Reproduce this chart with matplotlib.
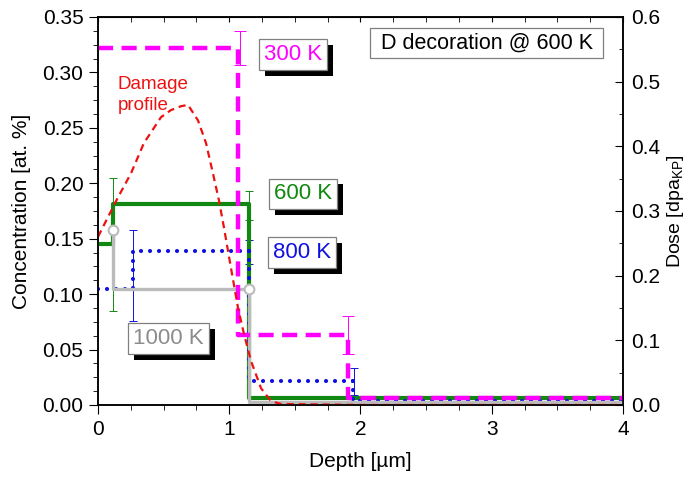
import matplotlib
matplotlib.use('agg')
import matplotlib.pyplot as plt
import matplotlib.patheffects as pe

plt.rcParams['font.family'] = ['Liberation Sans', 'DejaVu Sans']

# Deuterium concentration step profiles (depth in um, conc in at. %)
edges_300 = [0, 1.07, 1.905, 4.0]
conc_300 = [0.322, 0.063, 0.006]
edges_600 = [0, 0.115, 1.15, 4.0]
conc_600 = [0.145, 0.181, 0.006]
edges_800 = [0, 0.27, 1.15, 1.94, 4.0]
conc_800 = [0.105, 0.139, 0.022, 0.0035]
edges_1000 = [0.115, 0.115, 1.15, 4.0]
conc_1000 = [0.158, 0.105, 0.003]

# error bars
err_x_300 = [1.08, 1.905]
err_y_300 = [0.322, 0.063]
err_300 = [0.015, 0.017]
err_x_600 = [0.115, 1.15]
err_y_600 = [0.145, 0.180]
err_600 = [0.06, 0.013]
err_x_800 = [0.27, 1.15, 1.95]
err_y_800 = [0.117, 0.138, 0.021]
err_800 = [0.041, 0.011, 0.012]
mark_x_1000 = [0.115, 1.15]
mark_y_1000 = [0.158, 0.105]

# damage profile (dose in dpa_KP)
dmg_depth = [0, 0.152, 0.251, 0.350, 0.480, 0.556, 0.632, 0.686, 0.762, 0.823,
             0.876, 0.922, 0.960, 1.013, 1.067, 1.112, 1.166, 1.242, 1.318, 1.394,
             2.0, 3.0, 4.0]
dmg_dose = [0.260, 0.321, 0.358, 0.405, 0.445, 0.456, 0.462, 0.464, 0.440, 0.405,
            0.358, 0.316, 0.274, 0.212, 0.150, 0.110, 0.068, 0.026, 0.006, 0.0015,
            0.0, 0.0, 0.0]

MAG = '#ff00ff'
GRN = '#118811'
BLU = '#1010e0'
GRY = '#bbbbbb'
RED = '#ee1111'


def stepline(ax, edges, levels, **kw):
    ax.step(edges, list(levels) + [levels[-1]], where='post', **kw)


fig = plt.figure(figsize=(6.92, 4.82), dpi=100)
ax = fig.add_axes([0.1416, 0.1598, 0.7587, 0.805])

stepline(ax, edges_600, conc_600, color=GRN, lw=3.0, zorder=3)
stepline(ax, edges_800, conc_800, color=BLU, lw=3.0, ls=(0, (0.01, 2.15)),
         dash_capstyle='round', zorder=4)
stepline(ax, edges_1000, conc_1000, color=GRY, lw=2.4, zorder=5)
stepline(ax, edges_300, conc_300, color=MAG, lw=3.2, ls=(0, (3.4, 1.9)), zorder=6)

ax.errorbar(err_x_600, err_y_600, yerr=err_600, fmt='none', ecolor=GRN, elinewidth=0.7,
            capsize=3, capthick=0.7, zorder=2)
ax.errorbar(err_x_800, err_y_800, yerr=err_800, fmt='none', ecolor=BLU, elinewidth=0.7,
            capsize=3, capthick=0.7, zorder=2)
ax.errorbar(err_x_300, err_y_300, yerr=err_300, fmt='none', ecolor=MAG, elinewidth=0.7,
            capsize=4, capthick=0.7, zorder=7)
ax.plot(mark_x_1000, mark_y_1000, 'o', ms=7, mfc='white', mec=GRY, mew=1.5, zorder=8)

ax.set_xlim(0, 4)
ax.set_ylim(0, 0.35)
ax.set_xticks([0, 1, 2, 3, 4])
ax.set_xticks([i * 0.25 for i in range(17)], minor=True)
ax.set_yticks([i * 0.05 for i in range(8)])
ax.set_yticks([i * 0.0125 for i in range(29)], minor=True)
ax.set_yticklabels(['%.2f' % (i * 0.05) for i in range(8)])
ax.tick_params(axis='both', which='major', labelsize=15, direction='out', length=6.5, pad=4)
ax.tick_params(axis='both', which='minor', direction='out', length=3.5)
ax.set_xlabel('Depth [\u00b5m]', fontsize=15, labelpad=10)
ax.set_ylabel('Concentration [at. %]', fontsize=15, labelpad=8)

top = ax.secondary_xaxis('top')
top.set_xticks([0, 1, 2, 3, 4])
top.set_xticks([i * 0.25 for i in range(17)], minor=True)
top.tick_params(which='both', direction='in', labeltop=False, length=3.5)

ax2 = ax.twinx()
ax2.plot(dmg_depth, dmg_dose, color=RED, lw=1.6, ls=(0, (3.2, 2.2)))
ax2.set_ylim(0, 0.6)
ax2.set_yticks([0, 0.1, 0.2, 0.3, 0.4, 0.5, 0.6])
ax2.set_yticks([i * 0.05 for i in range(13)], minor=True)
ax2.set_yticklabels(['0.0', '0.1', '0.2', '0.3', '0.4', '0.5', '0.6'])
ax2.tick_params(which='major', labelsize=15, direction='in', length=5.5, pad=6)
ax2.tick_params(which='minor', direction='in', length=3)
ax2.set_ylabel('Dose [dpa$_{\\mathregular{KP}}$]', fontsize=14, labelpad=3)

for a in (ax, ax2):
    for s in a.spines.values():
        s.set_linewidth(1.1)

shadow = [pe.withSimplePatchShadow(offset=(4.3, -4.3), shadow_rgbFace='k', alpha=1)]


def boxlabel(x, y, text, color, fs=16, shade=True):
    t = ax.text(x, y, text, transform=ax.transAxes, color=color, fontsize=fs,
                ha='center', va='center', zorder=10,
                bbox=dict(boxstyle='square,pad=0.22', fc='white', ec='#808080', lw=0.9))
    if shade:
        t.get_bbox_patch().set_path_effects(shadow)
    return t


boxlabel(0.372, 0.903, '300 K', MAG)
boxlabel(0.390, 0.544, '600 K', GRN)
boxlabel(0.388, 0.393, '800 K', BLU)
boxlabel(0.134, 0.171, '1000 K', '#8c8c8c')
boxlabel(0.740, 0.933, ' D decoration @ 600 K ', 'black', fs=15.5, shade=False)

ax.text(0.038, 0.798, 'Damage\nprofile', transform=ax.transAxes, color=RED,
        fontsize=13.5, ha='left', va='center', linespacing=1.3)

fig.savefig('out.png', dpi=100)
